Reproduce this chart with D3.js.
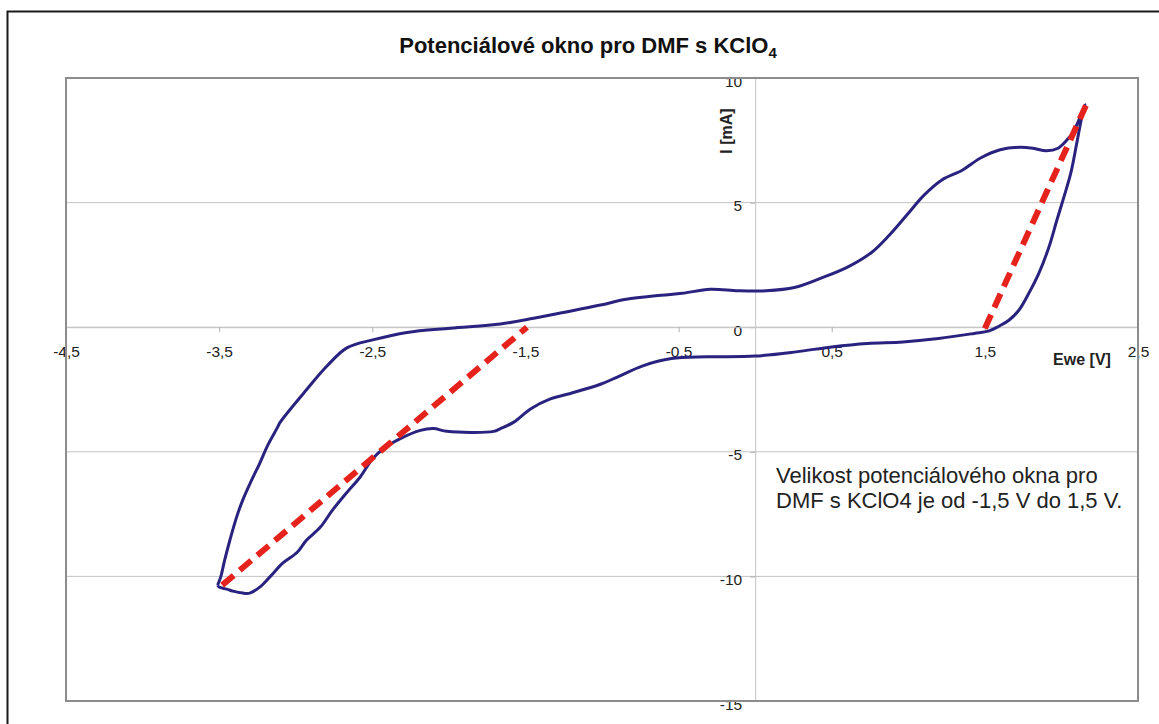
<!DOCTYPE html>
<html>
<head>
<meta charset="utf-8">
<script src="https://cdn.jsdelivr.net/npm/d3@7"></script>
<style>
  html, body { margin: 0; padding: 0; background: #fff; }
  svg { display: block; font-family: "Liberation Sans", Arial, sans-serif; }
</style>
</head>
<body>
<svg id="chart" width="1159" height="724"></svg>
<script>
// ---- data ----
const titleMain = "Potenciálové okno pro DMF s KClO";
const titleSub = "4";
const xLabel = "Ewe [V]";
const yLabel = "I [mA]";
const noteLines = ["Velikost potenciálového okna pro", "DMF s KClO4 je od -1,5 V do 1,5 V."];

const xTicks = [-4.5, -3.5, -2.5, -1.5, -0.5, 0.5, 1.5, 2.5];
const yTicks = [-15, -10, -5, 0, 5, 10];

// cyclic voltammogram, upper branch (left corner -> right tip)
const upperV = [-3.51, -3.49, -3.464, -3.43, -3.386, -3.346, -3.288, -3.235, -3.183, -3.118, -3.101, -2.927, -2.796, -2.666, -2.491, -2.273, -1.99, -1.663, -1.446, -1.228, -1.01, -0.842, -0.613, -0.476, -0.293, -0.11, 0.073, 0.256, 0.439, 0.6, 0.76, 0.874, 0.989, 1.103, 1.217, 1.355, 1.469, 1.6, 1.728, 1.815, 1.902, 1.978, 2.033, 2.076, 2.12, 2.155];
const upperI = [-10.35, -10.03, -9.35, -8.55, -7.62, -6.94, -6.14, -5.46, -4.74, -4.01, -3.81, -2.49, -1.56, -0.83, -0.5, -0.21, -0.04, 0.13, 0.36, 0.62, 0.89, 1.12, 1.28, 1.36, 1.52, 1.46, 1.46, 1.59, 1.99, 2.4, 3.0, 3.68, 4.49, 5.30, 5.90, 6.31, 6.78, 7.12, 7.22, 7.18, 7.08, 7.18, 7.49, 7.82, 8.4, 8.93];
// lower branch (right tip -> left corner)
const lowerV = [2.133, 2.10, 2.061, 2.016, 1.97, 1.918, 1.853, 1.787, 1.722, 1.657, 1.592, 1.523, 1.43, 1.198, 0.965, 0.733, 0.5, 0.267, 0, -0.314, -0.547, -0.733, -0.9, -1.01, -1.228, -1.337, -1.467, -1.576, -1.663, -1.707, -2.012, -2.099, -2.186, -2.317, -2.426, -2.5, -2.58, -2.67, -2.76, -2.84, -2.93, -2.99, -3.085, -3.17, -3.235, -3.3, -3.346, -3.41, -3.45, -3.5, -3.51];
const lowerI = [8.43, 7.38, 6.18, 5.22, 4.29, 3.21, 2.17, 1.36, 0.68, 0.28, 0.04, -0.16, -0.25, -0.45, -0.59, -0.65, -0.79, -0.99, -1.16, -1.19, -1.26, -1.55, -2.0, -2.29, -2.69, -2.88, -3.28, -3.81, -4.07, -4.18, -4.18, -4.07, -4.14, -4.47, -4.87, -5.3, -6.02, -6.66, -7.34, -8.03, -8.55, -9.03, -9.47, -10.03, -10.43, -10.67, -10.67, -10.59, -10.51, -10.43, -10.35];

// red dashed window lines
const leftWinV = [-3.48, -1.49];
const leftWinI = [-10.35, 0.0];
const rightWinV = [1.5, 2.16];
const rightWinI = [-0.05, 8.9];

// ---- drawing ----
const svg = d3.select("#chart");
const plot = { left: 66, right: 1138, top: 78, bottom: 701 };

const x = d3.scaleLinear().domain([-4.5, 2.5]).range([plot.left, plot.right]);
const y = d3.scaleLinear().domain([-15, 10]).range([plot.bottom, plot.top]);

svg.append("rect").attr("width", 1159).attr("height", 724).attr("fill", "#fff");

// outer chart frame
svg.append("rect")
  .attr("x", 7.5).attr("y", 11.5).attr("width", 1300).attr("height", 900)
  .attr("fill", "none").attr("stroke", "#1a1a1a").attr("stroke-width", 2);

// title
const title = svg.append("text")
  .attr("x", 588).attr("y", 53)
  .attr("text-anchor", "middle")
  .attr("font-weight", "bold").attr("font-size", 22).attr("fill", "#111");
title.append("tspan").text(titleMain);
title.append("tspan").attr("dy", 5).attr("font-size", 15).text(titleSub);

// gridlines
svg.append("g").selectAll("line").data(yTicks).join("line")
  .attr("x1", plot.left).attr("x2", plot.right)
  .attr("y1", d => y(d)).attr("y2", d => y(d))
  .attr("stroke", "#c4c4c4").attr("stroke-width", 1);

// y axis (vertical at x=0)
const yAxis = svg.append("g")
  .attr("transform", `translate(${x(0)},0)`)
  .call(d3.axisLeft(y).tickValues(yTicks).tickSize(5).tickPadding(8).tickFormat(d => String(d)));
yAxis.select(".domain").attr("stroke", "#c4c4c4");
yAxis.selectAll(".tick line").attr("stroke", "#b0b0b0");
yAxis.selectAll(".tick text")
  .attr("font-size", 15.5).attr("fill", "#222").attr("dy", "0.52em")
  .attr("font-family", "Liberation Sans, Arial, sans-serif");

// x axis (horizontal at y=0)
const xAxis = svg.append("g")
  .attr("transform", `translate(0,${y(0)})`)
  .call(d3.axisBottom(x).tickValues(xTicks).tickSize(5).tickPadding(14)
        .tickFormat(d => String(d).replace(".", ",")));
xAxis.select(".domain").attr("stroke", "#c4c4c4");
xAxis.selectAll(".tick line").attr("stroke", "#b0b0b0");
xAxis.selectAll(".tick text")
  .attr("font-size", 15.5).attr("fill", "#222")
  .attr("font-family", "Liberation Sans, Arial, sans-serif");

// plot area border
svg.append("rect")
  .attr("x", plot.left).attr("y", plot.top)
  .attr("width", plot.right - plot.left).attr("height", plot.bottom - plot.top)
  .attr("fill", "none").attr("stroke", "#8c8c8c").attr("stroke-width", 2);

// axis titles
svg.append("text")
  .attr("x", 1082).attr("y", 365)
  .attr("text-anchor", "middle").attr("font-weight", "bold").attr("font-size", 16).attr("fill", "#222")
  .text(xLabel);
svg.append("text")
  .attr("transform", "translate(732,131) rotate(-90)")
  .attr("text-anchor", "middle").attr("font-weight", "bold").attr("font-size", 16).attr("fill", "#222")
  .text(yLabel);

// CV loop
const loopV = upperV.concat(lowerV);
const loopI = upperI.concat(lowerI);
const loop = loopV.map((v, i) => [v, loopI[i]]);
const line = d3.line().x(d => x(d[0])).y(d => y(d[1])).curve(d3.curveCatmullRom.alpha(0.5));
svg.append("path").datum(loop)
  .attr("d", line)
  .attr("fill", "none").attr("stroke", "#29237f").attr("stroke-width", 3)
  .attr("stroke-linejoin", "round");

// red dashed window lines
const straight = d3.line().x(d => x(d[0])).y(d => y(d[1]));
[[leftWinV, leftWinI], [rightWinV, rightWinI]].forEach(([vs, is]) => {
  svg.append("path").datum(vs.map((v, i) => [v, is[i]]))
    .attr("d", straight)
    .attr("fill", "none").attr("stroke", "#e5231c").attr("stroke-width", 6)
    .attr("stroke-dasharray", "15,8");
});

// annotation
const note = svg.append("text").attr("font-size", 22).attr("fill", "#222");
noteLines.forEach((t, i) => {
  note.append("tspan").attr("x", 776).attr("y", 483 + i * 25).text(t);
});
</script>
</body>
</html>
